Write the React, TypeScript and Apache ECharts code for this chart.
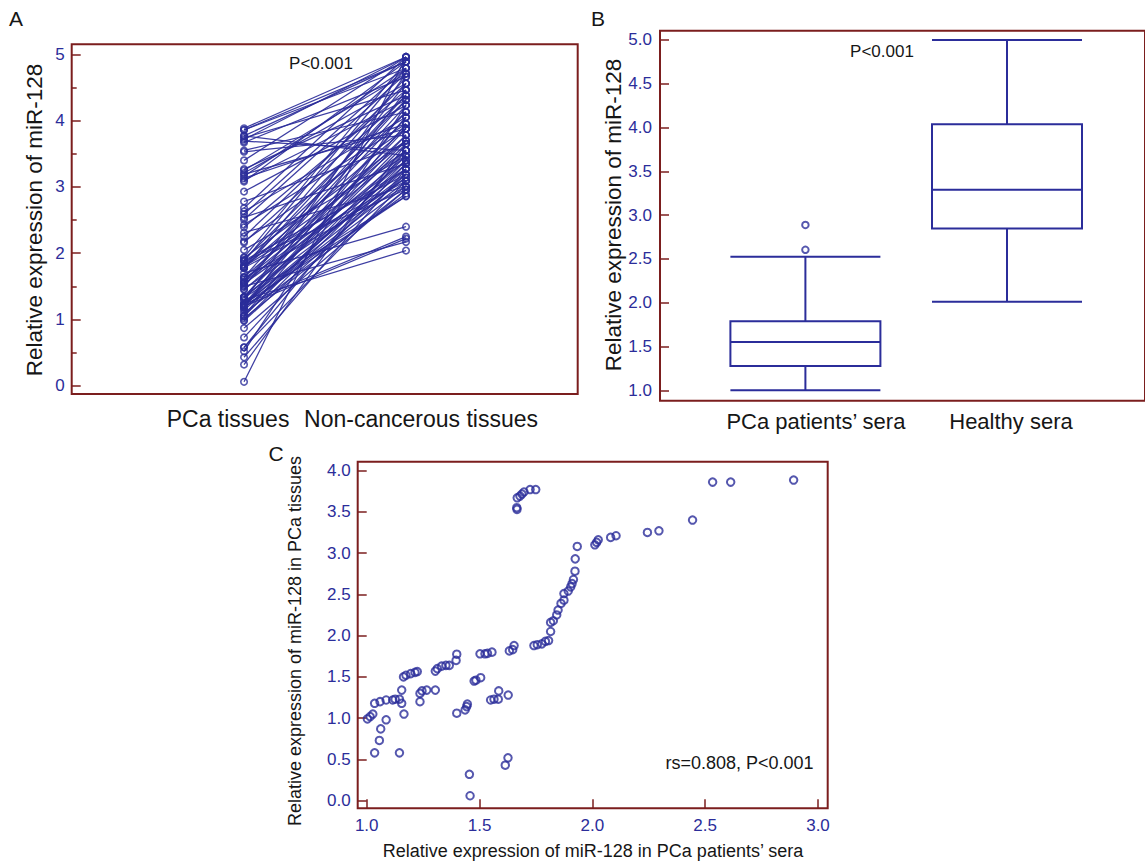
import React, { useEffect, useRef } from "react";
import * as echarts from "echarts";

// ---------- data ----------
// Panel C x (sera) and y (tissue) values; tissue values are also Panel A's PCa column
const seraPCa = [
  1.003, 1.015, 1.027, 1.035, 1.059, 1.086, 1.115, 1.126, 1.145, 1.155,
  1.155, 1.165, 1.086, 1.062, 1.056, 1.035, 1.145, 1.163, 1.174, 1.195,
  1.214, 1.224, 1.236, 1.236, 1.245, 1.266, 1.304, 1.304, 1.313, 1.332,
  1.351, 1.366, 1.396, 1.399, 1.399, 1.436, 1.443, 1.446, 1.476, 1.484,
  1.505, 1.502, 1.524, 1.535, 1.555, 1.549, 1.564, 1.583, 1.585, 1.627,
  1.632, 1.647, 1.653, 1.455, 1.458, 1.614, 1.626, 1.741, 1.756, 1.776,
  1.792, 1.806, 1.815, 1.815, 1.827, 1.842, 1.848, 1.861, 1.874, 1.874,
  1.893, 1.904, 1.91, 1.916, 1.923, 1.924, 1.933, 1.665, 1.666, 1.667,
  1.679, 1.688, 1.697, 1.724, 1.749, 2.011, 2.019, 2.026, 2.081, 2.105,
  2.244, 2.295, 2.444, 2.533, 2.613, 2.892,
];
const tissuePCa = [
  0.99, 1.02, 1.05, 1.18, 1.2, 1.22, 1.22, 1.23, 1.23, 1.34,
  1.18, 1.05, 0.98, 0.87, 0.73, 0.58, 0.58, 1.5, 1.52, 1.54,
  1.555, 1.565, 1.3, 1.2, 1.33, 1.34, 1.34, 1.57, 1.6, 1.63,
  1.64, 1.64, 1.7, 1.775, 1.06, 1.1, 1.14, 1.17, 1.45, 1.46,
  1.49, 1.78, 1.78, 1.785, 1.8, 1.22, 1.23, 1.23, 1.33, 1.28,
  1.815, 1.83, 1.88, 0.32, 0.06, 0.43, 0.52, 1.88, 1.89, 1.9,
  1.93, 1.94, 2.05, 2.16, 2.18, 2.25, 2.31, 2.39, 2.43, 2.51,
  2.54, 2.59, 2.63, 2.68, 2.78, 2.93, 3.08, 3.55, 3.53, 3.67,
  3.69, 3.715, 3.74, 3.77, 3.77, 3.1, 3.13, 3.16, 3.19, 3.21,
  3.25, 3.27, 3.4, 3.86, 3.86, 3.885,
];
const tissueNormal = [
  3.4, 2.96, 3.55, 3.09, 2.22, 3.27, 3.7, 2.86, 3.14, 4.05,
  3.01, 3.47, 3.19, 2.96, 3.35, 3.09, 3.55, 2.17, 3.78, 3.27,
  4.13, 3.4, 2.04, 3.65, 2.86, 3.88, 3.19, 4.23, 3.55, 3.01,
  4.31, 3.7, 2.4, 4.38, 3.95, 2.9, 3.35, 4.46, 3.47, 3.14,
  4.56, 3.88, 3.09, 4.66, 3.27, 3.78, 2.25, 4.05, 3.4, 4.71,
  3.55, 4.13, 2.96, 3.65, 4.96, 3.27, 4.23, 4.79, 3.19, 4.31,
  3.7, 4.89, 3.47, 4.38, 3.88, 4.56, 3.01, 4.46, 3.95, 4.71,
  3.35, 4.79, 4.05, 4.96, 3.65, 4.23, 4.89, 4.13, 3.78, 4.66,
  3.55, 4.96, 4.46, 4.89, 3.47, 4.31, 3.95, 4.79, 3.88, 4.56,
  4.71, 4.38, 4.96, 4.89, 4.79, 4.96,
];
const tissueGroups = ["PCa tissues", "Non-cancerous tissues"];
const seraGroups = ["PCa patients\u2019 sera", "Healthy sera"];
// [min, Q1, median, Q3, max]
const seraBoxPCa = [1.0, 1.277, 1.55, 1.789, 2.524];
const seraBoxHealthy = [2.01, 2.846, 3.29, 4.037, 5.0];
const seraOutliersPCa = [2.604, 2.888];

const ticksA = [0, 1, 2, 3, 4, 5];
const minorTicksA = [0.5, 1.5, 2.5, 3.5, 4.5];
const ticksB = [1.0, 1.5, 2.0, 2.5, 3.0, 3.5, 4.0, 4.5, 5.0];
const ticksCx = [1.0, 1.5, 2.0, 2.5, 3.0];
const ticksCy = [0.0, 0.5, 1.0, 1.5, 2.0, 2.5, 3.0, 3.5, 4.0];

// ---------- styles ----------
const FONT = '"Liberation Sans", Arial, Helvetica, sans-serif';
const BLUE = "#2b2d9a";
const FRAME = "#7b1e1e";
const TEXT = "#161616";

function frameGrid(left: number, top: number, width: number, height: number) {
  return {
    left, top, width, height,
    show: true,
    borderColor: FRAME,
    borderWidth: 2,
    backgroundColor: "transparent",
    containLabel: false,
  };
}

function tickStyle(values: number[], length: number) {
  return {
    show: true,
    inside: true,
    length,
    customValues: values,
    lineStyle: { color: FRAME, width: 1.5 },
  };
}

function label(
  x: number, y: number, text: string, size: number,
  align = "center", rotation = 0
) {
  return {
    type: "text",
    x, y, rotation, silent: true,
    style: {
      text,
      fill: TEXT,
      font: `${size}px ${FONT}`,
      align, verticalAlign: "middle",
      textAlign: align, textVerticalAlign: "middle",
    },
  };
}

export default function App() {
  const ref = useRef<HTMLDivElement>(null);

  useEffect(() => {
    if (!ref.current) return;
    const chart = echarts.init(ref.current, undefined, { renderer: "svg" });

    const option: any = {
      animation: false,
      backgroundColor: "#ffffff",
      grid: [
        frameGrid(71.7, 44.3, 506, 349.7), // A
        frameGrid(660, 30.7, 492.4, 370), // B frame
        { left: 704.6, top: 30.7, width: 403.2, height: 370, show: false }, // B boxes
        frameGrid(357.7, 461.7, 470, 346.6), // C
      ],
      xAxis: [
        {
          gridIndex: 0, type: "value", min: -0.064, max: 3.06,
          axisLine: { show: false, onZero: false },
          axisTick: { show: false },
          splitLine: { show: false },
          axisLabel: {
            customValues: [1, 2],
            margin: 13,
            formatter: (v: number) =>
              v === 1 ? `{a|${tissueGroups[0]}}` : `{b|${tissueGroups[1]}}`,
            rich: {
              a: { fontSize: 23, fontFamily: FONT, color: TEXT, padding: [0, 32, 0, 0] },
              b: { fontSize: 23, fontFamily: FONT, color: TEXT, padding: [0, 0, 0, 30] },
            },
          },
        },
        {
          gridIndex: 1, type: "value", min: 0.279, max: 2.721, show: false,
          axisLine: { onZero: false },
        },
        {
          gridIndex: 2, type: "category", data: seraGroups,
          axisLine: { show: false, onZero: false },
          axisTick: { show: false },
          splitLine: { show: false },
          axisLabel: {
            margin: 10,
            formatter: (v: string, i: number) => (i === 0 ? `{a|${v}}` : `{b|${v}}`),
            rich: {
              a: { fontSize: 22, fontFamily: FONT, color: TEXT, padding: [0, 0, 0, 21] },
              b: { fontSize: 22, fontFamily: FONT, color: TEXT, padding: [0, 0, 0, 8] },
            },
          },
        },
        {
          gridIndex: 3, type: "value", min: 0.96, max: 3.043,
          axisLine: { show: false, onZero: false },
          splitLine: { show: false },
          axisTick: tickStyle(ticksCx, 9),
          axisLabel: {
            customValues: ticksCx,
            color: BLUE, fontSize: 17, fontFamily: FONT, margin: 9,
            formatter: (v: number) => v.toFixed(1),
          },
        },
      ],
      yAxis: [
        {
          gridIndex: 0, type: "value", min: -0.124, max: 5.151,
          axisLine: { show: false, onZero: false },
          splitLine: { show: false },
          axisTick: tickStyle(ticksA, 9),
          axisLabel: {
            customValues: ticksA,
            color: BLUE, fontSize: 17, fontFamily: FONT, margin: 7,
            formatter: (v: number) => String(v),
          },
        },
        {
          gridIndex: 0, type: "value", min: -0.124, max: 5.151, position: "left",
          axisLine: { show: false, onZero: false },
          splitLine: { show: false },
          axisTick: tickStyle(minorTicksA, 5),
          axisLabel: { show: false },
        },
        {
          gridIndex: 1, type: "value", min: 0.881, max: 5.106,
          axisLine: { show: false, onZero: false },
          splitLine: { show: false },
          axisTick: tickStyle(ticksB, 9),
          axisLabel: {
            customValues: ticksB,
            color: BLUE, fontSize: 17, fontFamily: FONT, margin: 8,
            formatter: (v: number) => v.toFixed(1),
          },
        },
        {
          gridIndex: 2, type: "value", min: 0.881, max: 5.106, show: false,
          axisLine: { onZero: false },
          splitLine: { show: false },
        },
        {
          gridIndex: 3, type: "value", min: -0.092, max: 4.107,
          axisLine: { show: false, onZero: false },
          splitLine: { show: false },
          axisTick: tickStyle(ticksCy, 9),
          axisLabel: {
            customValues: ticksCy,
            color: BLUE, fontSize: 17, fontFamily: FONT, margin: 7,
            formatter: (v: number) => v.toFixed(1),
          },
        },
      ],
      series: [
        {
          type: "lines",
          coordinateSystem: "cartesian2d",
          xAxisIndex: 0, yAxisIndex: 0,
          silent: true,
          lineStyle: { color: BLUE, width: 1.25, opacity: 0.92 },
          data: tissuePCa.map((v, i) => ({ coords: [[1, v], [2, tissueNormal[i]]] })),
        },
        {
          type: "scatter",
          xAxisIndex: 0, yAxisIndex: 0,
          symbol: "circle", symbolSize: 6.5,
          silent: true,
          itemStyle: { color: "rgba(255,255,255,0)", borderColor: BLUE, borderWidth: 1.6 },
          data: [
            ...tissuePCa.map((v) => [1, v]),
            ...tissueNormal.map((v) => [2, v]),
          ],
        },
        {
          type: "boxplot",
          xAxisIndex: 2, yAxisIndex: 3,
          silent: true,
          boxWidth: [150, 150],
          itemStyle: { color: "#ffffff", borderColor: BLUE, borderWidth: 2 },
          data: [seraBoxPCa, seraBoxHealthy],
        },
        {
          type: "scatter",
          xAxisIndex: 2, yAxisIndex: 3,
          symbol: "circle", symbolSize: 6.5,
          silent: true,
          itemStyle: { color: "rgba(255,255,255,0)", borderColor: BLUE, borderWidth: 2 },
          data: seraOutliersPCa.map((v) => [0, v]),
        },
        {
          type: "scatter",
          xAxisIndex: 3, yAxisIndex: 4,
          symbol: "circle", symbolSize: 7.5,
          silent: true,
          itemStyle: { color: "rgba(255,255,255,0)", borderColor: BLUE, borderWidth: 2 },
          data: seraPCa.map((x, i) => [x, tissuePCa[i]]),
        },
      ],
      graphic: {
        elements: [
          label(16, 18, "A", 21),
          label(598, 18, "B", 21),
          label(276, 453, "C", 21),
          label(34, 220, "Relative expression of miR-128", 22.5, "center", Math.PI / 2),
          label(613, 215, "Relative expression of miR-128", 22.5, "center", Math.PI / 2),
          label(295, 641, "Relative expression of miR-128 in PCa tissues", 18, "center", Math.PI / 2),
          label(593, 851, "Relative expression of miR-128 in PCa patients\u2019 sera", 18),
          label(321, 63.5, "P<0.001", 17),
          label(882, 51.7, "P<0.001", 17),
          label(813.6, 763, "rs=0.808, P<0.001", 18, "right"),
        ],
      },
    };

    chart.setOption(option);
    return () => chart.dispose();
  }, []);

  return (
    <div
      ref={ref}
      style={{ position: "absolute", left: 0, top: 0, width: 1145, height: 864 }}
    />
  );
}
